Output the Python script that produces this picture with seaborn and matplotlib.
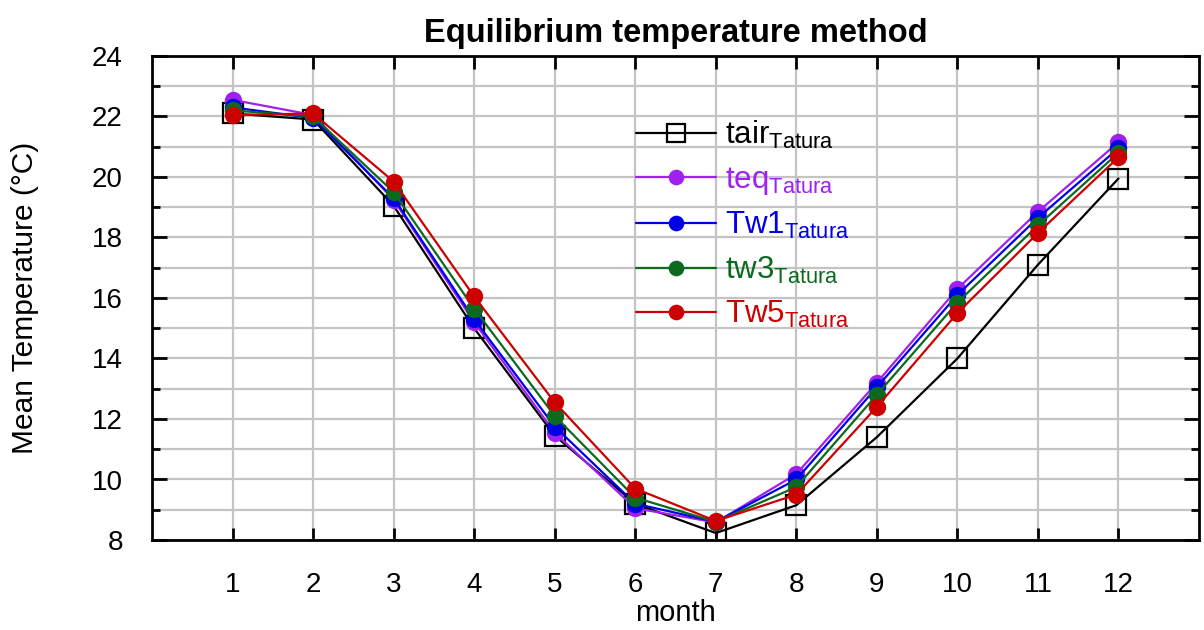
import matplotlib
matplotlib.use("Agg")
import matplotlib.pyplot as plt
from matplotlib.ticker import MultipleLocator
import pandas as pd
import seaborn as sns

# data
months = list(range(1, 13))
tair = [22.1, 21.9, 19.05, 15.0, 11.45, 9.2, 8.23, 9.15, 11.4, 14.0, 17.1, 19.95]
teq = [22.55, 22.05, 19.25, 15.2, 11.55, 9.05, 8.58, 10.18, 13.2, 16.3, 18.85, 21.15]
tw1 = [22.3, 21.95, 19.3, 15.3, 11.75, 9.2, 8.6, 10.0, 13.05, 16.1, 18.65, 20.95]
tw3 = [22.2, 22.0, 19.5, 15.65, 12.1, 9.4, 8.6, 9.75, 12.8, 15.85, 18.4, 20.8]
tw5 = [22.05, 22.1, 19.85, 16.05, 12.55, 9.7, 8.63, 9.5, 12.4, 15.5, 18.15, 20.65]

series_names = ["tair", "teq", "Tw1", "tw3", "Tw5"]
series_values = [tair, teq, tw1, tw3, tw5]
series_colors = ["black", "#A020F0", "#0000E6", "#0B6A1E", "#CC0000"]

df = pd.concat(
    [pd.DataFrame({"series": n, "month": months, "temp": v})
     for n, v in zip(series_names, series_values)],
    ignore_index=True,
)

sns.set_theme(style="white")
plt.rcParams["font.family"] = ["Liberation Sans", "DejaVu Sans"]
plt.rcParams["mathtext.fontset"] = "custom"
plt.rcParams["mathtext.rm"] = "Liberation Sans"
plt.rcParams["mathtext.it"] = "Liberation Sans:italic"
for key in ["text.color", "axes.labelcolor", "xtick.color", "ytick.color"]:
    plt.rcParams[key] = "black"

fig = plt.figure(figsize=(12.04, 6.30), dpi=100)
ax = fig.add_axes([152 / 1204, 90 / 630, 1047 / 1204, 484 / 630])

for name, color in zip(series_names, series_colors):
    sub = df[df["series"] == name]
    if name == "tair":
        style = dict(marker="s", markersize=14, markerfacecolor="none",
                     markeredgecolor=color, markeredgewidth=1.6)
    else:
        style = dict(marker="o", markersize=12.5, markerfacecolor=color,
                     markeredgecolor=color, markeredgewidth=0)
    sns.lineplot(data=sub, x="month", y="temp", ax=ax, color=color,
                 linewidth=1.6, label=name + r"$_{\mathrm{Tatura}}$", **style)

ax.set_xlim(0, 13)
ax.set_ylim(8, 24)
ax.set_xticks(months)
ax.yaxis.set_major_locator(MultipleLocator(2))
ax.yaxis.set_minor_locator(MultipleLocator(1))
ax.set_axisbelow(True)
ax.xaxis.grid(True, which="major", color="#c4c4c4", linewidth=1.6)
ax.yaxis.grid(True, which="both", color="#c4c4c4", linewidth=1.6)

for sp in ax.spines.values():
    sp.set_visible(True)
    sp.set_color("black")
    sp.set_linewidth(2)

ax.tick_params(axis="x", which="major", direction="in", top=True, bottom=True,
               length=9, width=2, labelsize=20, pad=23, color="black")
ax.tick_params(axis="y", which="major", direction="in", left=True, right=True,
               length=11, width=2, labelsize=20, pad=21, color="black")
ax.tick_params(axis="y", which="minor", direction="in", left=True, right=True,
               length=6, width=2, color="black")

ax.set_xlabel("month", fontsize=21, labelpad=1)
ax.set_ylabel("Mean Temperature (°C)", fontsize=21.5, labelpad=38)
ax.set_title("Equilibrium temperature method", fontsize=23.5,
             fontweight="bold", pad=10)

handles, labels = ax.get_legend_handles_labels()
ax.legend(handles, labels, loc="upper left",
          bbox_to_anchor=(636 / 1204, 1 - 119 / 630),
          bbox_transform=fig.transFigure, frameon=False, fontsize=22.5,
          labelcolor="linecolor", handlelength=2.55, handletextpad=0.3,
          labelspacing=0.43, borderpad=0, borderaxespad=0, markerscale=0.9)

fig.savefig("out.png", dpi=100)
